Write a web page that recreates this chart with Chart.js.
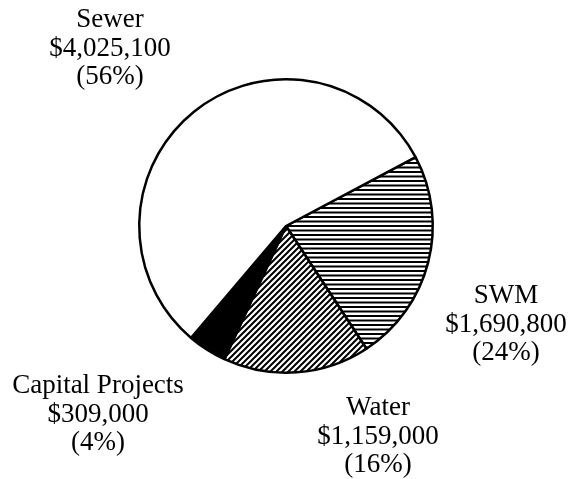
<!DOCTYPE html>
<html>
<head>
<meta charset="utf-8">
<script src="https://cdn.jsdelivr.net/npm/chart.js@4/dist/chart.umd.min.js"></script>
<style>
  html, body { margin: 0; padding: 0; background: #fff; }
  #wrap { width: 570px; height: 479px; position: relative; }
</style>
</head>
<body>
<div id="wrap"><canvas id="pie"></canvas></div>
<script>
const labels = ['SWM', 'Water', 'Capital Projects', 'Sewer'];
const values = [1690800, 1159000, 309000, 4025100];

function linePattern(kind) {
    const c = document.createElement('canvas');
    const ctx = c.getContext('2d');
    if (kind === 'horizontal') {
        c.width = 9; c.height = 9;
        ctx.fillStyle = '#fff';
        ctx.fillRect(0, 0, 9, 9);
        ctx.fillStyle = '#000';
        ctx.fillRect(0, 0, 9, 2);
        ctx.fillRect(0, 4.5, 9, 2);
    } else {
        c.width = 6; c.height = 6;
        ctx.fillStyle = '#fff';
        ctx.fillRect(0, 0, 6, 6);
        ctx.strokeStyle = '#000';
        ctx.lineWidth = 2;
        ctx.beginPath();
        ctx.moveTo(-1, 7); ctx.lineTo(7, -1);
        ctx.moveTo(-4, 4); ctx.lineTo(4, -4);
        ctx.moveTo(2, 10); ctx.lineTo(10, 2);
        ctx.stroke();
    }
    return ctx.createPattern(c, 'repeat');
}

const total = values.reduce(function (a, b) { return a + b; }, 0);

const sliceLabels = {
    id: 'sliceLabels',
    afterDraw: function (chart, args, opts) {
        const arc = chart.getDatasetMeta(0).data[0];
        const ctx = chart.ctx;
        ctx.save();
        ctx.font = '27px "Liberation Serif", "Times New Roman", serif';
        ctx.fillStyle = '#000';
        ctx.textAlign = 'center';
        ctx.textBaseline = 'alphabetic';
        labels.forEach(function (name, i) {
            const pos = opts.anchors[i];
            const pct = Math.round(values[i] / total * 100);
            const lines = [name, '$' + values[i].toLocaleString('en-US'), '(' + pct + '%)'];
            lines.forEach(function (t, j) {
                ctx.fillText(t, arc.x + pos[0], arc.y + pos[1] + j * opts.lineHeight);
            });
        });
        ctx.restore();
    }
};

new Chart(document.getElementById('pie').getContext('2d'), {
    type: 'pie',
    data: {
        labels: labels,
        datasets: [{
            data: values,
            backgroundColor: [linePattern('horizontal'), linePattern('diagonal'), '#000', '#fff'],
            borderColor: '#000',
            borderWidth: 2.5,
            hoverOffset: 0
        }]
    },
    options: {
        responsive: true,
        maintainAspectRatio: false,
        animation: false,
        events: [],
        rotation: 62,
        layout: { padding: { top: 78, bottom: 105, left: 138, right: 136 } },
        plugins: {
            legend: { display: false },
            tooltip: { enabled: false },
            sliceLabels: {
                lineHeight: 28.5,
                anchors: [[220, 77], [92, 189], [-188, 167], [-176, -199]]
            }
        }
    },
    plugins: [sliceLabels]
});
</script>
</body>
</html>
